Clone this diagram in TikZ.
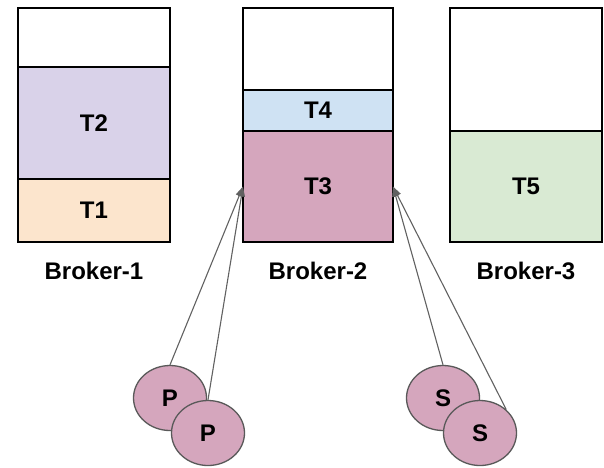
\documentclass[tikz,border=0pt]{standalone}
\usepackage{fontspec}
\setmainfont{Liberation Sans}
\usetikzlibrary{positioning, arrows.meta, shapes.geometric}
\definecolor{lavender}{HTML}{D9D2E9}
\definecolor{peach}{HTML}{FCE5CD}
\definecolor{paleblue}{HTML}{CFE2F3}
\definecolor{mauve}{HTML}{D5A6BD}
\definecolor{palegreen}{HTML}{D9EAD3}

\begin{document}
\begin{tikzpicture}[x=1pt, y=-1pt,
		slot/.style={draw, line width=1.6pt, inner sep=0pt, outer sep=0pt, anchor=north west, font=\fontsize{24}{28}\selectfont\bfseries},
		brokername/.style={inner sep=0pt, font=\fontsize{24}{28}\selectfont\bfseries},
		client/.style={ellipse, draw=black!65, line width=1.3pt, fill=mauve, minimum width=73pt, minimum height=65pt, inner sep=0pt, font=\fontsize{24}{28}\selectfont\bfseries},
		feed/.style={draw=black!62, line width=1.1pt, -{Triangle[length=10pt, width=7pt]}}]
		\useasboundingbox (0,0) rectangle (604,467);
		% broker 1
		\node[slot, fill=white, minimum width=152pt, minimum height=59pt] (b1free) at (18,8) {};
		\node[slot, fill=lavender, minimum width=152pt, minimum height=112pt] (t2) at (18,67) {T2};
		\node[slot, fill=peach, minimum width=152pt, minimum height=63pt] (t1) at (18,179) {T1};
		% broker 2
		\node[slot, fill=white, minimum width=150pt, minimum height=82pt] (b2free) at (243,8) {};
		\node[slot, fill=paleblue, minimum width=150pt, minimum height=41pt] (t4) at (243,90) {T4};
		\node[slot, fill=mauve, minimum width=150pt, minimum height=111pt] (t3) at (243,131) {T3};
		% broker 3
		\node[slot, fill=white, minimum width=152pt, minimum height=123pt] (b3free) at (450,8) {};
		\node[slot, fill=palegreen, minimum width=152pt, minimum height=111pt] (t5) at (450,131) {T5};

		\node[brokername, below=20pt of t1] (broker1) {Broker-1};
		\node[brokername, below=20pt of t3] (broker2) {Broker-2};
		\node[brokername, below=20pt of t5] (broker3) {Broker-3};

		% producers and subscribers
		\node[client] (p1) at (170,398) {P};
		\node[client] (p2) at (208,433) {P};
		\node[client] (s1) at (443,398) {S};
		\node[client] (s2) at (480,433) {S};

		\draw[feed] (p1.north) -- (t3.west);
		\draw[feed] (p2.north) -- (t3.west);
		\draw[feed] (s1.north) -- (t3.east);
		\draw[feed] (s2.north east) -- (t3.east);
	\end{tikzpicture}
\end{document}
